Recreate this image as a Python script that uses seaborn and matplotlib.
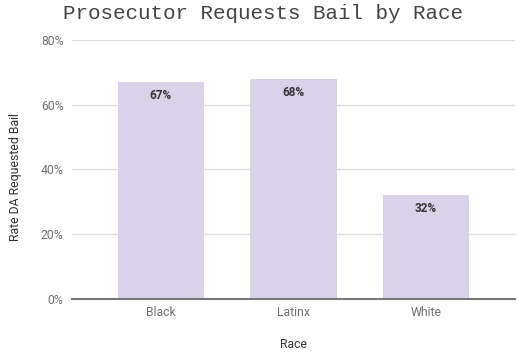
import matplotlib
matplotlib.use("Agg")
import matplotlib.pyplot as plt
import seaborn as sns
import pandas as pd
from matplotlib.ticker import PercentFormatter

races = ["Black", "Latinx", "White"]
rates = [0.67, 0.68, 0.32]
labels = ["67%", "68%", "32%"]

df = pd.DataFrame({"Race": races, "Rate": rates})

sns.set_theme(style="white")
plt.rcParams['font.family'] = ['Roboto', 'DejaVu Sans']

fig = plt.figure(figsize=(5.18, 3.52), dpi=100)
ax = fig.add_axes([0.139, 0.1506, 0.855, 0.7358])

sns.barplot(data=df, x="Race", y="Rate", color="#d9d2e9", saturation=1,
            width=0.65, ax=ax, zorder=2, edgecolor="none")

ax.set_ylim(0, 0.8)
ax.set_xlim(-0.67, 2.67)
ax.set_yticks([0, 0.2, 0.4, 0.6, 0.8])
ax.yaxis.set_major_formatter(PercentFormatter(1.0, decimals=0))
ax.grid(axis="y", color="#e0e0e0", linewidth=1, zorder=0)
ax.set_axisbelow(True)
for s in ["top", "right", "left"]:
    ax.spines[s].set_visible(False)
ax.spines["bottom"].set_color("#777777")
ax.spines["bottom"].set_linewidth(1.5)
ax.spines["bottom"].set_zorder(3)
ax.tick_params(axis="both", length=0, labelsize=8.8, labelcolor="#707070", pad=6)
ax.tick_params(axis="x", pad=5)

for p, lab in zip(ax.patches, labels):
    ax.annotate(lab, (p.get_x() + p.get_width() / 2, p.get_height()),
                xytext=(0, -9.5), textcoords="offset points",
                ha="center", va="center", fontsize=8.5, fontweight="bold",
                color="#333333")

ax.set_xlabel("Race", fontsize=8.8, color="#333333", labelpad=14)
ax.set_ylabel("Rate DA Requested Bail", fontsize=8.8, color="#333333")
ax.yaxis.set_label_coords(-0.112, 0.47)

fig.text(0.508, 0.962, "Prosecutor Requests Bail by Race", ha="center", va="center",
         fontsize=15, color="#444444", family=["Liberation Mono", "DejaVu Sans Mono"])

fig.savefig("out.png", dpi=100)
